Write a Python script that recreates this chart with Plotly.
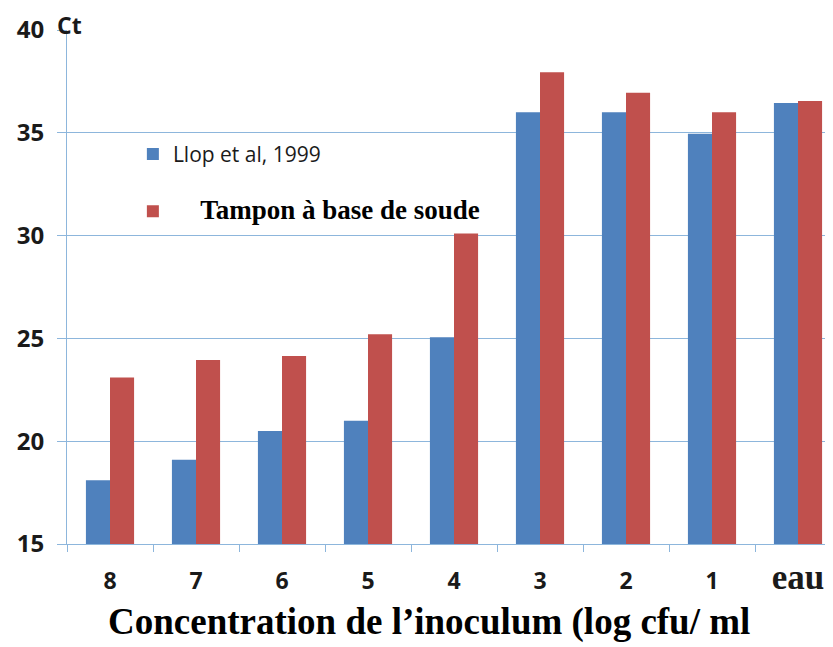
import plotly.graph_objects as go

categories = ["8", "7", "6", "5", "4", "3", "2", "1", "eau"]
tick_labels = ["8", "7", "6", "5", "4", "3", "2", "1",
               "<span style='font-family:Liberation Serif;font-size:35px;font-weight:bold'>eau</span>"]
llop_values = [18.1, 19.1, 20.5, 21.0, 25.05, 36.0, 36.0, 34.95, 36.45]
tampon_values = [23.1, 23.95, 24.15, 25.2, 30.1, 37.95, 36.95, 36.0, 36.55]

series_names = ["Llop et al, 1999", "Tampon à base de soude"]

BLUE = "#4F81BD"
RED = "#C0504D"
GRID = "#8DB6DC"

# page has an 8px body margin; figure occupies 825x639 starting at (8,8)
W, H = 825, 639
L, T, B = 59, 22, 103
PH = H - T - B  # plot height

fig = go.Figure()
fig.add_trace(go.Bar(
    x=categories, y=llop_values, name=series_names[0],
    marker=dict(color=BLUE, line=dict(width=0)),
    legendgroup="a",
))
fig.add_trace(go.Bar(
    x=categories, y=tampon_values,
    name="\u00a0" * 5 + "<span style='font-family:Liberation Serif;font-size:27px;font-weight:bold;fill:#000'>" + series_names[1] + "</span>",
    marker=dict(color=RED, line=dict(width=0)),
    legendgroup="b",
))

fig.update_layout(
    width=W, height=H, autosize=False,
    margin=dict(l=L, r=0, t=T, b=B, autoexpand=False),
    paper_bgcolor="white", plot_bgcolor="white",
    barmode="group", bargap=0.44, bargroupgap=0,
    font=dict(family="Open Sans", color="#1a1a1a"),
    showlegend=True,
    legend=dict(
        x=0.086, y=0.798, xanchor="left", yanchor="top",
        bgcolor="rgba(0,0,0,0)", borderwidth=0,
        font=dict(family="Open Sans", size=21, color="#1a1a1a"),
        tracegroupgap=27, traceorder="grouped",
    ),
    xaxis=dict(
        type="category", range=[-0.5, 8.407],
        tickmode="array", tickvals=categories, ticktext=tick_labels,
        tickson="boundaries", ticks="outside", ticklen=7, tickcolor=GRID,
        showline=True, linecolor=GRID, linewidth=1,
        showgrid=False,
        tickfont=dict(family="Open Sans", size=23, color="#1a1a1a", weight="bold"),
        ticklabelstandoff=16,
    ),
    yaxis=dict(
        range=[15, 40], dtick=5, tick0=15,
        showgrid=True, gridcolor=GRID, gridwidth=1,
        showline=True, linecolor=GRID, linewidth=1,
        ticks="outside", ticklen=9, tickcolor=GRID,
        tickfont=dict(family="Open Sans", size=24, color="#1a1a1a", weight="bold"),
        ticklabelstandoff=8,
        zeroline=False,
    ),
    annotations=[
        dict(text="<b>Ct</b>", xref="paper", yref="paper",
             x=(61.5 - L) / (W - L), y=1 + (T - 16.5) / PH,
             xanchor="center", yanchor="middle", showarrow=False, borderpad=0,
             font=dict(family="Open Sans", size=23, color="#1a1a1a")),
        dict(text="<b>Concentration de l\u2019inoculum (log cfu/ ml</b>",
             xref="paper", yref="paper",
             x=(421 - L) / (W - L), y=-(614 - (T + PH)) / PH,
             xanchor="center", yanchor="middle", showarrow=False,
             font=dict(family="Liberation Serif", size=37, color="#000")),
    ],
)

fig.write_html("out.html")
